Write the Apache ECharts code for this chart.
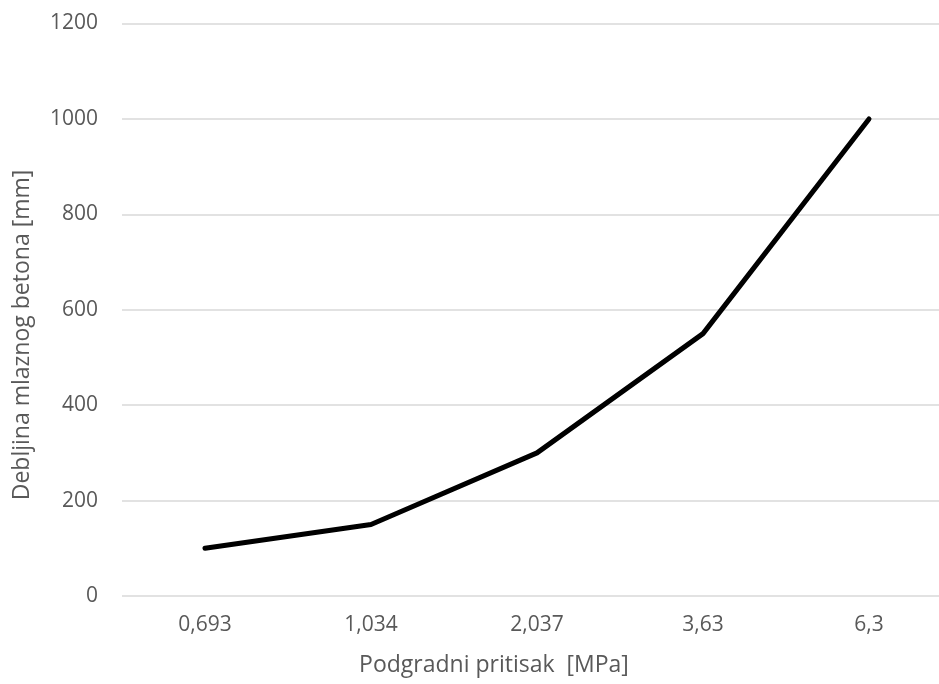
<!DOCTYPE html>
<html><head><meta charset="utf-8">
<script src="https://cdn.jsdelivr.net/npm/echarts@6/dist/echarts.min.js"></script>
<style>html,body{margin:0;padding:0;background:#fff}#c{width:939px;height:684px}</style>
</head><body><div id="c"></div>
<script>
var categories = ['0,693', '1,034', '2,037', '3,63', '6,3'];
var values = [100, 150, 300, 550, 1000];
var xTitle = 'Podgradni pritisak  [MPa]';
var yTitle = 'Debljina mlaznog betona [mm]';

var chart = echarts.init(document.getElementById('c'), null, {renderer: 'canvas'});
var font = '"Open Sans", sans-serif';
chart.setOption({
  animation: false,
  backgroundColor: '#fff',
  grid: {left: 122, top: 23.5, width: 830, height: 572.5, containLabel: false, outerBoundsMode: 'none'},
  xAxis: {
    type: 'category', data: categories, boundaryGap: true,
    axisLine: {show: false}, axisTick: {show: false},
    axisLabel: {color: '#595959', fontSize: 21, fontFamily: font, margin: 19}
  },
  yAxis: {
    type: 'value', min: 0, max: 1200, interval: 200,
    axisLine: {show: false}, axisTick: {show: false},
    axisLabel: {color: '#595959', fontSize: 21, fontFamily: font, margin: 24,
      formatter: function (v) { return String(v); }},
    splitLine: {lineStyle: {color: '#d9d9d9', width: 1.5}}
  },
  series: [{
    type: 'line', data: values, showSymbol: false, symbol: 'none',
    lineStyle: {color: '#000', width: 5, cap: 'round', join: 'round'}
  }],
  graphic: [
    {type: 'text', x: 494, y: 665, style: {text: xTitle, fill: '#595959', font: '23px ' + font, textAlign: 'center', textVerticalAlign: 'middle'}},
    {type: 'text', rotation: Math.PI / 2, x: 22, y: 335, style: {text: yTitle, fill: '#595959', font: '23px ' + font, textAlign: 'center', textVerticalAlign: 'middle'}}
  ]
});
</script></body></html>
